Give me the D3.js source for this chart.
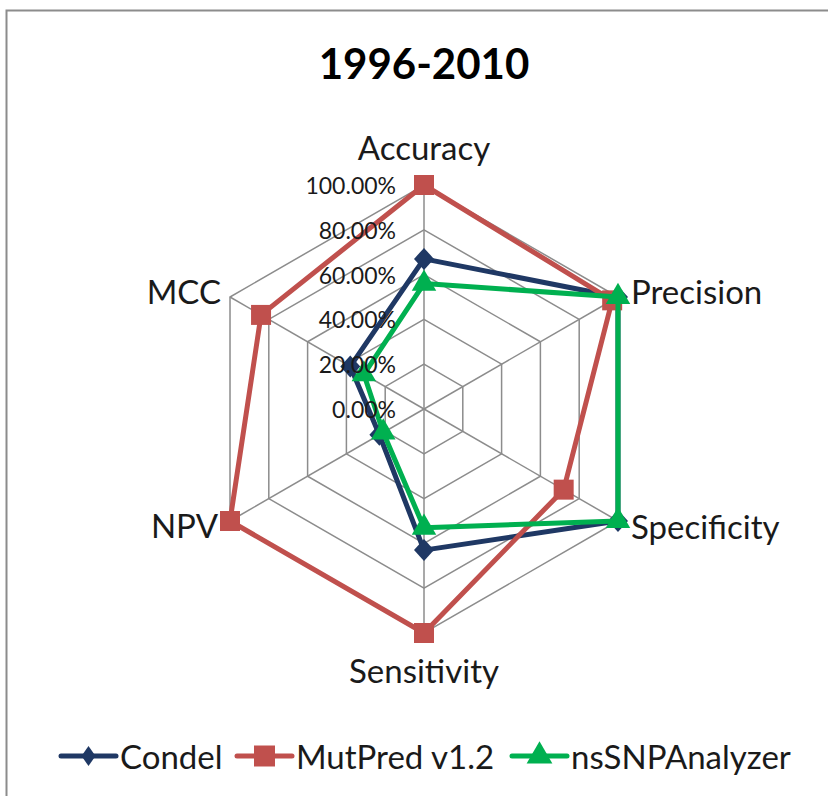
<!DOCTYPE html>
<html>
<head>
<meta charset="utf-8">
<script src="https://cdn.jsdelivr.net/npm/d3@7"></script>
<style>
  body { margin: 0; background: #fff; }
  text { font-family: Lato, "Open Sans", sans-serif; fill: #1a1a1a; }
</style>
</head>
<body>
<script>
let width = 828
let height = 796

const axes = ["Accuracy", "Precision", "Specificity", "Sensitivity", "NPV", "MCC"]
const ticks = [0, 0.2, 0.4, 0.6, 0.8, 1.0]
const condel = [0.67, 1.0, 1.0, 0.63, 0.23, 0.38]
const mutpred = [1.0, 0.97, 0.72, 1.0, 1.0, 0.84]
const nssnp = [0.56, 1.0, 1.0, 0.53, 0.21, 0.31]

const seriesNames = ["Condel", "MutPred v1.2", "nsSNPAnalyzer"]
const seriesColors = ["#1F3864", "#C0504D", "#00B050"]
const seriesData = [condel, mutpred, nssnp]

const cx = 424, cy = 409
var r = d3.scaleLinear().domain([0, 1]).range([0, 224])
var angle = d3.scalePoint().domain(axes.concat(["_end"])).range([0, 2 * Math.PI])

function pt(axis, v) {
	let a = angle(axis)
	return [cx + r(v) * Math.sin(a), cy - r(v) * Math.cos(a)]
}

// marker shapes: diamond, square, triangle
function marker(i, w, h) {
	if (i == 0) return "M0," + (-h / 2) + "L" + (w / 2) + ",0L0," + (h / 2) + "L" + (-w / 2) + ",0Z"
	if (i == 1) return d3.symbol().type(d3.symbolSquare).size(w * w)()
	return d3.symbol().type(d3.symbolTriangle).size(w * w * 0.65)()
}

let svg = d3.select("body").append("svg")
	.attr("width", width)
	.attr("height", height)

// chart frame (runs off right and bottom)
svg.append("rect")
	.attr("x", 6.5).attr("y", 10.5)
	.attr("width", 840).attr("height", 800)
	.attr("fill", "none").attr("stroke", "#8c8c8c").attr("stroke-width", 2)

svg.append("text")
	.attr("x", cx).attr("y", 63)
	.attr("text-anchor", "middle")
	.attr("dominant-baseline", "central")
	.style("font-size", "42px").style("font-weight", "bold")
	.style("fill", "#000")
	.text("1996-2010")

// grid rings
svg.selectAll(".ring")
	.data(ticks.filter(t => t > 0)).enter()
	.append("polygon")
	.attr("points", t => axes.map(a => pt(a, t).join(",")).join(" "))
	.attr("fill", "none").attr("stroke", "#8c8c8c").attr("stroke-width", 1.5)

// spokes
svg.selectAll(".spoke")
	.data(axes).enter()
	.append("line")
	.attr("x1", cx).attr("y1", cy)
	.attr("x2", a => pt(a, 1)[0]).attr("y2", a => pt(a, 1)[1])
	.attr("stroke", "#8c8c8c").attr("stroke-width", 1.5)

// axis labels
const labelPos = {
	"Accuracy": {dx: 0, dy: -38, anchor: "middle"},
	"Precision": {dx: 13, dy: -6, anchor: "start"},
	"Specificity": {dx: 13, dy: 5, anchor: "start"},
	"Sensitivity": {dx: 0, dy: 37, anchor: "middle"},
	"NPV": {dx: -12, dy: 4, anchor: "end"},
	"MCC": {dx: -9, dy: -6, anchor: "end"}
}
svg.selectAll(".axlabel")
	.data(axes).enter()
	.append("text")
	.attr("x", a => pt(a, 1)[0] + labelPos[a].dx)
	.attr("y", a => pt(a, 1)[1] + labelPos[a].dy)
	.attr("text-anchor", a => labelPos[a].anchor)
	.attr("dominant-baseline", "central")
	.style("font-size", "33px")
	.text(a => a)

// series lines and markers
seriesData.forEach((vals, i) => {
	let pts = axes.map((a, j) => pt(a, vals[j]))
	svg.append("path")
		.attr("d", d3.line()(pts.concat([pts[0]])))
		.attr("fill", "none")
		.attr("stroke", seriesColors[i])
		.attr("stroke-width", 5)
		.attr("stroke-linejoin", "round")
	svg.selectAll(".m" + i)
		.data(pts).enter()
		.append("path")
		.attr("transform", d => "translate(" + d[0] + "," + d[1] + ")")
		.attr("d", marker(i, 20, i == 0 ? 22 : 20))
		.attr("fill", seriesColors[i])
})

// tick labels
svg.selectAll(".tick")
	.data(ticks).enter()
	.append("text")
	.attr("x", 396)
	.attr("y", t => cy - r(t))
	.attr("text-anchor", "end")
	.attr("dominant-baseline", "central")
	.style("font-size", "23px")
	.text(t => d3.format(".2%")(t))

// legend
const legX = [61, 237, 512]
let leg = svg.selectAll(".leg")
	.data(seriesNames).enter()
	.append("g")
	.attr("transform", (d, i) => "translate(" + legX[i] + ",756)")
leg.append("line")
	.attr("x1", 0).attr("x2", 55)
	.attr("stroke", (d, i) => seriesColors[i])
	.attr("stroke-width", 5)
	.attr("stroke-linecap", "round")
leg.append("path")
	.attr("transform", "translate(27.5,0)")
	.attr("d", (d, i) => i == 0 ? marker(0, 14, 20) : marker(i, 21, 21))
	.attr("fill", (d, i) => seriesColors[i])
leg.append("text")
	.attr("x", 59)
	.attr("dominant-baseline", "central")
	.style("font-size", "33px")
	.text(d => d)
</script>
</body>
</html>
